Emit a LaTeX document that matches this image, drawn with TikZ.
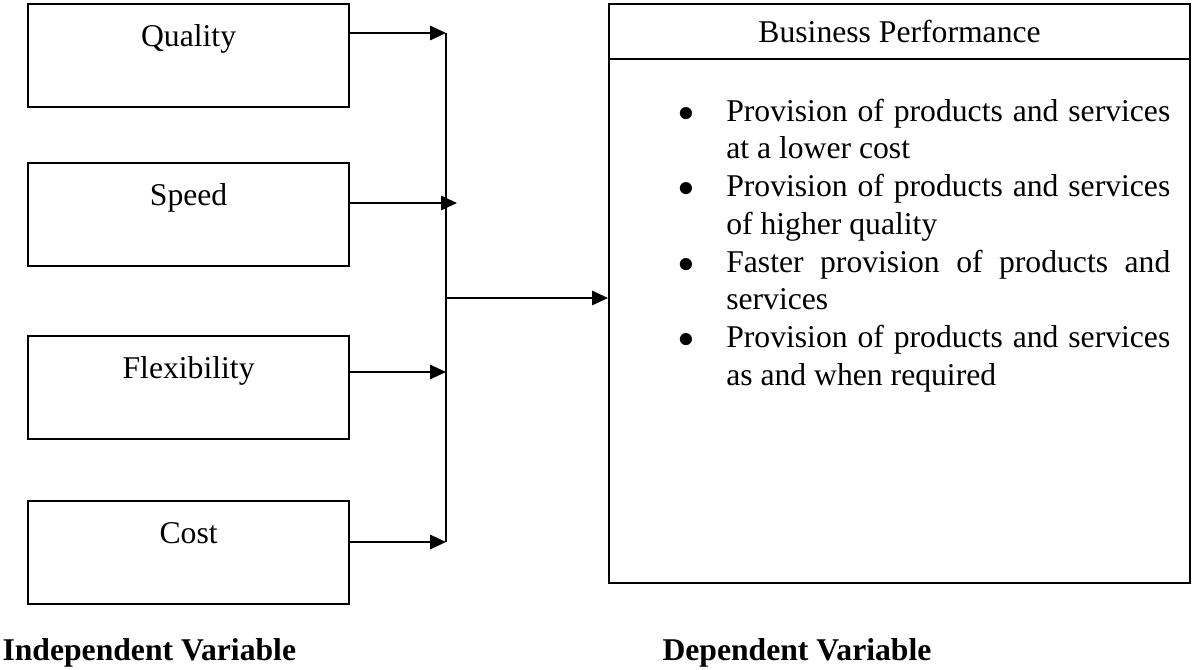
\documentclass[tikz,border=0pt]{standalone}
\usepackage{fontspec}
\setmainfont{Liberation Serif}
\usetikzlibrary{arrows.meta, positioning}
\tikzset{
  varbox/.style = {rectangle, draw, line width=0.8pt, inner sep=0pt,
                   minimum width=121.7pt, text height=16.2pt, text depth=22.8pt,
                   font=\fontsize{12}{14.3}\selectfont},
  perfbox/.style = {rectangle, draw, line width=0.8pt, inner sep=0pt,
                    minimum width=220.2pt, minimum height=219.4pt,
                    font=\fontsize{12}{14.3}\selectfont},
  varlabel/.style = {font=\fontsize{12}{14.3}\selectfont\bfseries, inner sep=0pt},
  varline/.style = {line width=0.75pt},
  vararrow/.style = {-{Triangle[length=6pt, width=5.4pt]}, line width=0.75pt}
}

\begin{document}
\begin{tikzpicture}[x=0.379pt, y=-0.379pt]
\useasboundingbox (0,0) rectangle (1192,670);

% independent variables
\node[varbox, anchor=north west] (qual)  at (27,3)   {Quality};
\node[varbox, anchor=north west] (speed) at (27,162) {Speed};
\node[varbox, anchor=north west] (flex)  at (27,335) {Flexibility};
\node[varbox, anchor=north west] (cost)  at (27,500) {Cost};

% collecting line
\coordinate (jq) at (446,33);
\coordinate (js) at (457,203);
\coordinate (jf) at (446,372);
\coordinate (jc) at (446,542);
\coordinate (jm) at (446,298);

\draw[varline] (jq) -- (jc);
\draw[vararrow] (qual.east |- jq) -- (jq);
\draw[vararrow] (speed.east |- js) -- (js);
\draw[vararrow] (flex.east |- jf) -- (jf);
\draw[vararrow] (cost.east |- jc) -- (jc);

% dependent variable
\node[perfbox, anchor=north west] (perf) at (608,3) {};
\node[perfbox, minimum height=20.8pt, anchor=north] (perfhead) at (perf.north) {Business Performance};
\node[anchor=north west, inner sep=0pt, text width=188.3pt, align=justify,
      font=\fontsize{12}{14.3}\selectfont] (perfitems) at (673,83) {%
  \begin{list}{$\bullet$}{\setlength{\leftmargin}{20pt}\setlength{\labelsep}{12.1pt}%
    \setlength{\labelwidth}{6pt}\setlength{\itemsep}{0pt}\setlength{\parsep}{0pt}%
    \setlength{\topsep}{0pt}\setlength{\partopsep}{0pt}}
  \item Provision of products and services at a lower cost
  \item Provision of products and services of higher quality
  \item Faster provision of products and services
  \item Provision of products and services as and when required
  \end{list}};

\draw[vararrow] (jm) -- (perf.west |- jm);

% captions
\node[varlabel, anchor=base west] (indep) at (2,660)   {Independent Variable};
\node[varlabel, anchor=base west] (dep)   at (662,660) {Dependent Variable};
\end{tikzpicture}
\end{document}
